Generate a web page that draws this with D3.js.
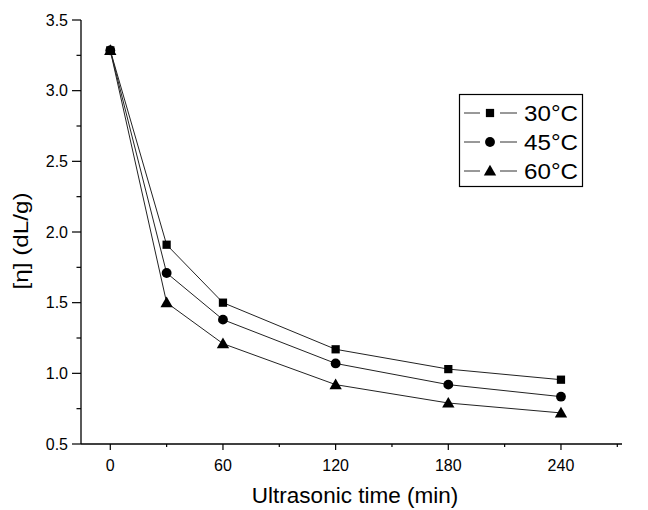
<!DOCTYPE html>
<html>
<head>
<meta charset="utf-8">
<script src="https://cdn.jsdelivr.net/npm/d3@7"></script>
<style>
  body { margin: 0; background: #fff; }
  text { font-family: Arial, "Liberation Sans", sans-serif; fill: #000; }
</style>
</head>
<body>
<svg id="chart" width="648" height="510"></svg>
<script>
(function () {
'use strict';

var times = [0, 30, 60, 120, 180, 240];
var seriesNames = ['30°C', '45°C', '60°C'];
var eta30 = [3.285, 1.91, 1.50, 1.17, 1.03, 0.955];
var eta45 = [3.285, 1.71, 1.38, 1.07, 0.92, 0.835];
var eta60 = [3.285, 1.50, 1.21, 0.92, 0.79, 0.72];
var xTicks = [0, 60, 120, 180, 240];
var yTicks = [0.5, 1.0, 1.5, 2.0, 2.5, 3.0, 3.5];

var svg = d3.select('#chart');
var left = 81, right = 622, top = 20, bottom = 444;

var x = d3.scaleLinear().domain([-15.6, 272.5]).range([left, right]);
var y = d3.scaleLinear().domain([0.5, 3.5]).range([bottom, top]);

// minor ticks
var xMinor = d3.range(30, 271, 60);
var yMinor = d3.range(0.75, 3.5, 0.5);

var gx = svg.append('g').attr('transform', 'translate(0,' + bottom + ')');
gx.append('line').attr('x1', left).attr('x2', right).attr('stroke', '#000').attr('stroke-width', 1.3);
gx.selectAll('line.major').data(xTicks).enter().append('line')
    .attr('class', 'major')
    .attr('x1', function (d) { return x(d); }).attr('x2', function (d) { return x(d); })
    .attr('y1', 0).attr('y2', 6).attr('stroke', '#000').attr('stroke-width', 1.2);
gx.selectAll('line.minor').data(xMinor).enter().append('line')
    .attr('class', 'minor')
    .attr('x1', function (d) { return x(d); }).attr('x2', function (d) { return x(d); })
    .attr('y1', 0).attr('y2', 3).attr('stroke', '#000').attr('stroke-width', 1.2);
gx.selectAll('text').data(xTicks).enter().append('text')
    .attr('x', function (d) { return x(d); })
    .attr('y', 27)
    .attr('text-anchor', 'middle')
    .style('font-size', '16px')
    .text(function (d) { return d; });

var gy = svg.append('g').attr('transform', 'translate(' + left + ',0)');
gy.append('line').attr('y1', top).attr('y2', bottom).attr('stroke', '#000').attr('stroke-width', 1.3);
gy.selectAll('line.major').data(yTicks).enter().append('line')
    .attr('class', 'major')
    .attr('y1', function (d) { return y(d); }).attr('y2', function (d) { return y(d); })
    .attr('x1', -9).attr('x2', 0).attr('stroke', '#000').attr('stroke-width', 1.2);
gy.selectAll('line.minor').data(yMinor).enter().append('line')
    .attr('class', 'minor')
    .attr('y1', function (d) { return y(d); }).attr('y2', function (d) { return y(d); })
    .attr('x1', -4.5).attr('x2', 0).attr('stroke', '#000').attr('stroke-width', 1.2);
gy.selectAll('text').data(yTicks).enter().append('text')
    .attr('x', -13)
    .attr('y', function (d) { return y(d); })
    .attr('dy', '0.36em')
    .attr('text-anchor', 'end')
    .style('font-size', '16px')
    .text(function (d) { return d.toFixed(1); });

// axis titles
svg.append('text')
    .attr('x', 355).attr('y', 503)
    .attr('text-anchor', 'middle')
    .style('font-size', '22.5px')
    .text('Ultrasonic time (min)');

svg.append('text')
    .attr('transform', 'translate(28,241) rotate(-90)')
    .attr('text-anchor', 'middle')
    .style('font-size', '21px')
    .attr('textLength', 97)
    .attr('lengthAdjust', 'spacingAndGlyphs')
    .text('[η] (dL/g)');

// series
var series = [eta30, eta45, eta60].map(function (vals, i) {
    return { name: seriesNames[i], values: vals.map(function (v, j) { return { t: times[j], v: v }; }) };
});
var shapes = [d3.symbolSquare, d3.symbolCircle, d3.symbolTriangle];
var sizes = [68, 76, 66];

var line = d3.line().x(function (d) { return x(d.t); }).y(function (d) { return y(d.v); });

var g = svg.append('g');
series.forEach(function (s, i) {
    g.append('path')
        .datum(s.values)
        .attr('d', line)
        .attr('fill', 'none')
        .attr('stroke', '#222')
        .attr('stroke-width', 1);
    g.selectAll('path.pt' + i).data(s.values).enter().append('path')
        .attr('class', 'pt' + i)
        .attr('transform', function (d) {
            return 'translate(' + x(d.t) + ',' + (y(d.v) + (i === 2 ? 1 : 0)) + ')';
        })
        .attr('d', d3.symbol().type(shapes[i]).size(sizes[i]))
        .attr('fill', '#000');
});

// legend
var lg = svg.append('g');
lg.append('rect')
    .attr('x', 459.5).attr('y', 94.5).attr('width', 123).attr('height', 92)
    .attr('fill', '#fff').attr('stroke', '#000').attr('stroke-width', 1.2);
series.forEach(function (s, i) {
    var cy = 113 + i * 29;
    lg.append('line')
        .attr('x1', 464).attr('x2', 517).attr('y1', cy).attr('y2', cy)
        .attr('stroke', '#333').attr('stroke-width', 1);
    lg.append('rect')
        .attr('x', 480).attr('y', cy - 6).attr('width', 20).attr('height', 12)
        .attr('fill', '#fff');
    lg.append('path')
        .attr('transform', 'translate(490,' + (cy + (i === 2 ? 1 : 0)) + ')')
        .attr('d', d3.symbol().type(shapes[i]).size(sizes[i]))
        .attr('fill', '#000');
    lg.append('text')
        .attr('x', 524).attr('y', cy + 8)
        .style('font-size', '22px')
        .attr('textLength', 54)
        .attr('lengthAdjust', 'spacingAndGlyphs')
        .text(s.name);
});
})();
</script>
</body>
</html>
